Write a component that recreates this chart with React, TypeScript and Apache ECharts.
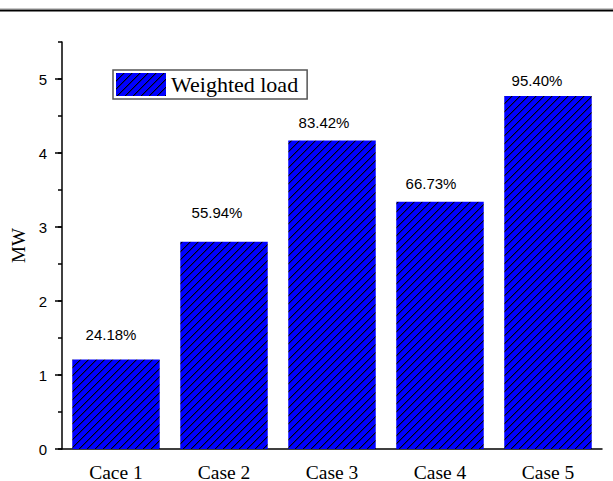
import React, { useEffect, useRef } from "react";
import * as echarts from "echarts";

const categories = ["Cace 1", "Case 2", "Case 3", "Case 4", "Case 5"];
const loadValues = [1.21, 2.8, 4.17, 3.34, 4.77];
const percentLabels = ["24.18%", "55.94%", "83.42%", "66.73%", "95.40%"];
const yTickValues = [0, 1, 2, 3, 4, 5];
const seriesName = "Weighted load";

// label styling per bar (gap above bar, horizontal shift)
const labelGaps = [17, 22, 10, 11, 8];
const labelShifts = [-5, -7, -8, -9, -11];

function makeHatch(): HTMLCanvasElement {
  const s = 8;
  const c = document.createElement("canvas");
  c.width = s;
  c.height = s;
  const ctx = c.getContext("2d")!;
  ctx.fillStyle = "#0000ff";
  ctx.fillRect(0, 0, s, s);
  ctx.fillStyle = "#000";
  for (let i = 0; i < s; i++) {
    ctx.fillRect(i, s - 1 - i, 1, 1);
  }
  ctx.fillStyle = "rgba(0,0,0,0.35)";
  for (let i = 0; i < s; i++) {
    ctx.fillRect((i + 1) % s, s - 1 - i, 1, 1);
  }
  return c;
}

const SERIF = '"Liberation Serif", "Times New Roman", serif';
const SANS = '"Liberation Sans", Arial, sans-serif';

export default function App() {
  const ref = useRef<HTMLDivElement>(null);
  useEffect(() => {
    if (!ref.current) return;
    const chart = echarts.init(ref.current, null, { renderer: "svg" });
    const hatch = makeHatch();
    const pattern: any = {
      image: hatch,
      repeat: "repeat",
      imageWidth: 8,
      imageHeight: 8,
    };
    const axisLine = { lineStyle: { color: "#000", width: 1.5 } };
    chart.setOption({
      animation: false,
      backgroundColor: "#fff",
      graphic: [
        {
          type: "line",
          shape: { x1: 0, y1: 8.5, x2: 613, y2: 8.5 },
          style: { stroke: "#c8c8c8", lineWidth: 1 },
        },
        {
          type: "line",
          shape: { x1: 0, y1: 10.5, x2: 613, y2: 10.5 },
          style: { stroke: "#000", lineWidth: 2 },
        },
      ],
      legend: {
        show: true,
        left: 113,
        top: 70,
        itemWidth: 50,
        itemHeight: 23,
        icon: "rect",
        padding: [3, 9, 3, 3],
        borderColor: "#555",
        borderWidth: 1.5,
        backgroundColor: "#fff",
        textStyle: { fontFamily: SERIF, fontSize: 22, color: "#000" },
        data: [seriesName],
      },
      grid: {
        left: 62,
        right: 11,
        top: 42,
        bottom: 32,
        containLabel: false,
        outerBoundsMode: "none",
      },
      xAxis: [
        {
          type: "category",
          data: categories,
          boundaryGap: true,
          axisLine,
          axisTick: {
            alignWithLabel: true,
            length: 7,
            lineStyle: { color: "#000", width: 1.5 },
          },
          axisLabel: {
            margin: 13,
            fontFamily: SERIF,
            fontSize: 19.5,
            color: "#000",
            interval: 0,
          },
          splitLine: { show: false },
        },
        {
          type: "category",
          data: categories,
          position: "bottom",
          boundaryGap: true,
          axisLine: { show: false },
          axisTick: { length: 4, lineStyle: { color: "#000", width: 1.5 } },
          axisLabel: { show: false },
          splitLine: { show: false },
        },
      ],
      yAxis: [
        {
          type: "value",
          min: 0,
          max: 5.5,
          interval: 1,
          name: "MW",
          nameLocation: "middle",
          nameRotate: 90,
          nameGap: 31,
          nameTextStyle: { fontFamily: SERIF, fontSize: 19, color: "#000" },
          axisLine: { show: true, ...axisLine },
          axisTick: {
            show: true,
            length: 7,
            customValues: yTickValues,
            lineStyle: { color: "#000", width: 1.5 },
          },
          axisLabel: {
            margin: 15,
            fontFamily: SANS,
            fontSize: 15,
            color: "#000",
            customValues: yTickValues,
          },
          splitLine: { show: false },
        },
        {
          type: "value",
          min: 0,
          max: 5.5,
          interval: 0.5,
          position: "left",
          axisLine: { show: false },
          axisTick: { show: true, length: 4, lineStyle: { color: "#000", width: 1.5 } },
          axisLabel: { show: false },
          splitLine: { show: false },
        },
      ],
      series: [
        {
          name: seriesName,
          type: "bar",
          xAxisIndex: 0,
          yAxisIndex: 0,
          barWidth: "81%",
          itemStyle: { color: pattern },
          label: {
            show: true,
            position: "top",
            fontFamily: SANS,
            fontSize: 15,
            color: "#000",
            formatter: (p: any) => percentLabels[p.dataIndex],
          },
          data: loadValues.map((v, i) => ({
            value: v,
            label: { distance: labelGaps[i], offset: [labelShifts[i], 0] },
          })),
        },
      ],
    });
    return () => chart.dispose();
  }, []);
  return (
    <div
      ref={ref}
      style={{ position: "absolute", left: 0, top: 0, width: 613, height: 481 }}
    />
  );
}
